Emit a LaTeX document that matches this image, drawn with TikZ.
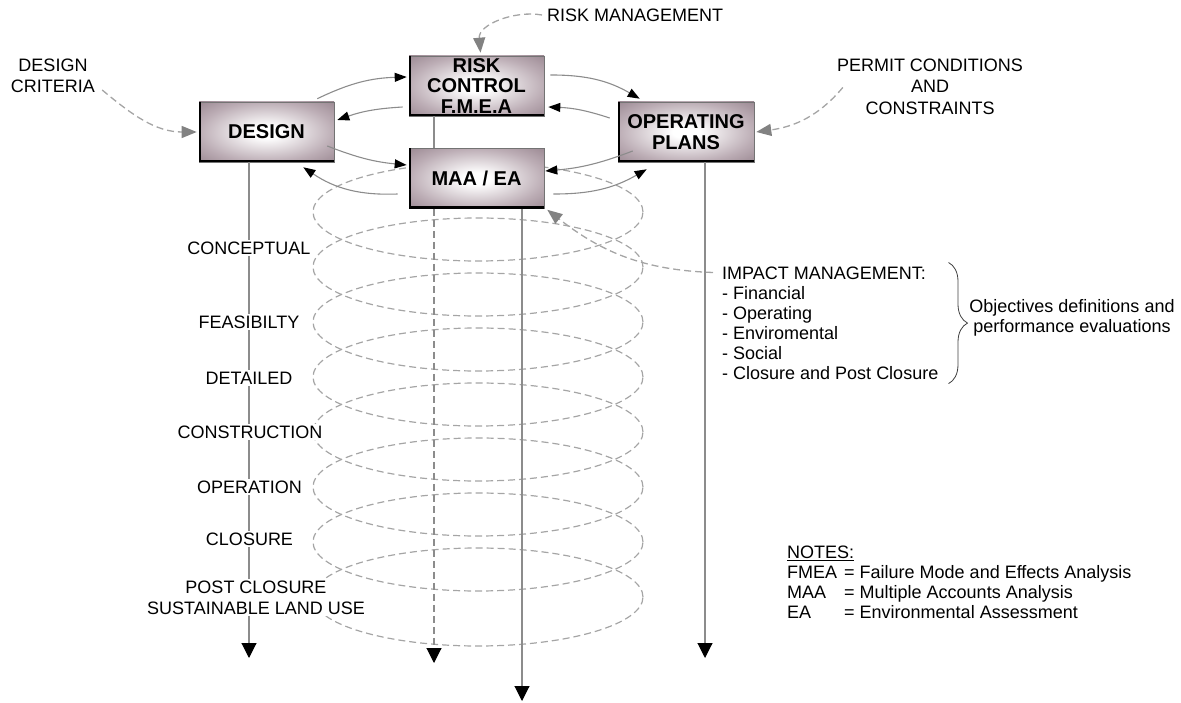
\documentclass[tikz,border=0pt]{standalone}
\usepackage{fontspec}
\setmainfont{Liberation Sans}
\usetikzlibrary{arrows.meta,calc,decorations.pathreplacing}

\definecolor{linegray}{RGB}{140,140,140}
\definecolor{dashgray}{RGB}{165,165,165}
\definecolor{tipgray}{RGB}{130,130,130}
\definecolor{boxedge}{RGB}{118,96,108}
\definecolor{boxdark}{RGB}{80,62,72}
\definecolor{boxmid}{RGB}{188,173,181}

% soft white-centred fill of the process boxes
\pgfdeclareradialshading{boxshade}{\pgfpoint{0bp}{0bp}}{%
  color(0bp)=(white); color(5bp)=(white); color(25bp)=(boxmid);
  color(48bp)=(boxedge); color(71bp)=(boxdark)}

\tikzset{
  procbox/.style={draw=black!55, line width=0.6pt, shading=boxshade,
    minimum width=135pt, minimum height=60pt, inner sep=0pt, align=center,
    font=\fontsize{20}{20.5}\selectfont\bfseries},
  cyc/.style={draw=linegray, line width=1.1pt,
    -{Triangle[length=12pt,width=9pt,color=black]}},
  feed/.style={draw=dashgray, line width=1.3pt, dash pattern=on 7pt off 4pt,
    -{Triangle[length=15pt,width=12pt,color=tipgray]}},
  downarr/.style={draw=linegray, line width=1.1pt,
    -{Triangle[length=15pt,width=15pt,color=black]}},
  ring/.style={draw=dashgray, line width=1.2pt, dash pattern=on 7pt off 4pt},
  phase/.style={fill=white, inner sep=1.5pt, align=center,
    font=\fontsize{18}{21}\selectfont},
  lbl/.style={inner sep=0pt, align=center, font=\fontsize{18}{21.5}\selectfont},
}

\begin{document}
\begin{tikzpicture}[x=1pt,y=1pt]
\useasboundingbox (0,0) rectangle (1181,702);

% stacked rings of the life-cycle spiral
\foreach \k in {0,...,7}
  \draw[ring] (478,{490-55*\k}) ellipse [x radius=165pt, y radius=49pt];

% process boxes
\node[procbox] (risk) at (476.5,616) {RISK\\CONTROL\\F.M.E.A};
\node[procbox] (design) at (266.5,570) {DESIGN};
\node[procbox] (maa) at (476.5,523.5) {MAA / EA};
\node[procbox, minimum width=136pt] (oper) at (686,570) {OPERATING\\PLANS};

% heavy left and bottom edges
\foreach \b in {risk,design,maa,oper}
  \draw[line width=2.4pt] ([xshift=1.2pt]\b.north west) -- ([xshift=1.2pt,yshift=1.2pt]\b.south west) -- ([yshift=1.2pt]\b.south east);

% downward time lines
\coordinate (dEnd) at (249,44);
\coordinate (rEnd) at (434,39);
\coordinate (mEnd) at (522,1);
\coordinate (oEnd) at (705,44);
\draw[downarr] (design.south -| dEnd) -- (dEnd);
\draw[linegray, line width=1.1pt] (risk.south -| rEnd) -- (maa.north -| rEnd);
\draw[downarr, dash pattern=on 7pt off 4pt] (maa.south -| rEnd) -- (rEnd);
\draw[downarr] (maa.south -| mEnd) -- (mEnd);
\draw[downarr] (oper.south -| oEnd) -- (oEnd);

% project phases
\node[phase] (p1) at (249,454) {CONCEPTUAL};
\node[phase] (p2) at (249,380) {FEASIBILTY};
\node[phase] (p3) at (249,324) {DETAILED};
\node[phase] (p4) at (250,270) {CONSTRUCTION};
\node[phase] (p5) at (249.5,215) {OPERATION};
\node[phase] (p6) at (249.5,163) {CLOSURE};
\node[phase] (p7) at (256,104.5) {POST CLOSURE\\SUSTAINABLE LAND USE};

% iteration arrows between the boxes
\draw[cyc] ($(design.north east)+(-17,3)$) to[bend left=12] ($(risk.west)+(-2,9)$);
\draw[cyc] ($(risk.east)+(6,11)$) to[bend left=15] ($(oper.north west)+(22,3)$);
\draw[cyc] ($(oper.west)+(-8,14)$) to[bend right=8] ($(risk.east)+(4,-21)$);
\draw[cyc] ($(risk.west)+(-6,-21)$) to[bend right=8] ($(design.east)+(3,12)$);
\draw[cyc] ($(design.east)+(-7,-14)$) to[bend right=8] ($(maa.west)+(-2,13.5)$);
\draw[cyc] ($(maa.west)+(-11,-15.5)$) to[bend left=18] ($(design.south east)+(-31,-5)$);
\draw[cyc] ($(oper.west)+(15,-19)$) to[bend left=8] ($(maa.east)+(1,7.5)$);
\draw[cyc] ($(maa.east)+(9,-15.5)$) to[bend right=15] ($(oper.south west)+(29,-7)$);

% external inputs
\node[lbl, anchor=west] (riskmgmt) at (547,687) {RISK MANAGEMENT};
\draw[feed] ($(riskmgmt.west)+(-5,0)$) to[out=170,in=95] ($(risk.north)+(4,3)$);

\node[lbl] (crit) at (53,626) {DESIGN\\CRITERIA};
\draw[feed] ($(crit.east)+(7,-14)$) to[out=-40,in=180] ($(design.west)+(-2,0)$);

\node[lbl] (permit) at (930,615.5) {PERMIT CONDITIONS\\AND\\CONSTRAINTS};
\draw[feed] ($(permit.west)+(6,-1)$) to[out=230,in=8] ($(oper.east)+(2,0)$);

\node[lbl, anchor=north west, align=left, font=\fontsize{18}{20}\selectfont] (impact) at (722,435.5)
  {IMPACT MANAGEMENT:\\- Financial\\- Operating\\- Enviromental\\- Social\\- Closure and Post Closure};
\draw[feed] ($(impact.north west)+(-9,-6)$) to[out=178,in=-38] ($(maa.south east)+(3,-1)$);

\draw[decorate, decoration={brace, amplitude=19pt}, line width=0.8pt, black!75]
  ($(impact.north east)+(10,4)$) -- ($(impact.south east)+(10,-4)$);
\node[lbl, font=\fontsize{18}{20}\selectfont] (obj) at (1072,384) {Objectives definitions and\\performance evaluations};

% abbreviations
\node[anchor=north west, inner sep=0pt, font=\fontsize{18}{20}\selectfont] (notes) at (787,157.5)
  {\begin{tabular}{@{}l@{\hspace{7pt}}l@{}}
    \multicolumn{2}{@{}l}{\underline{NOTES:}}\\
    FMEA & = Failure Mode and Effects Analysis\\
    MAA & = Multiple Accounts Analysis\\
    EA & = Environmental Assessment
  \end{tabular}};
\end{tikzpicture}
\end{document}
